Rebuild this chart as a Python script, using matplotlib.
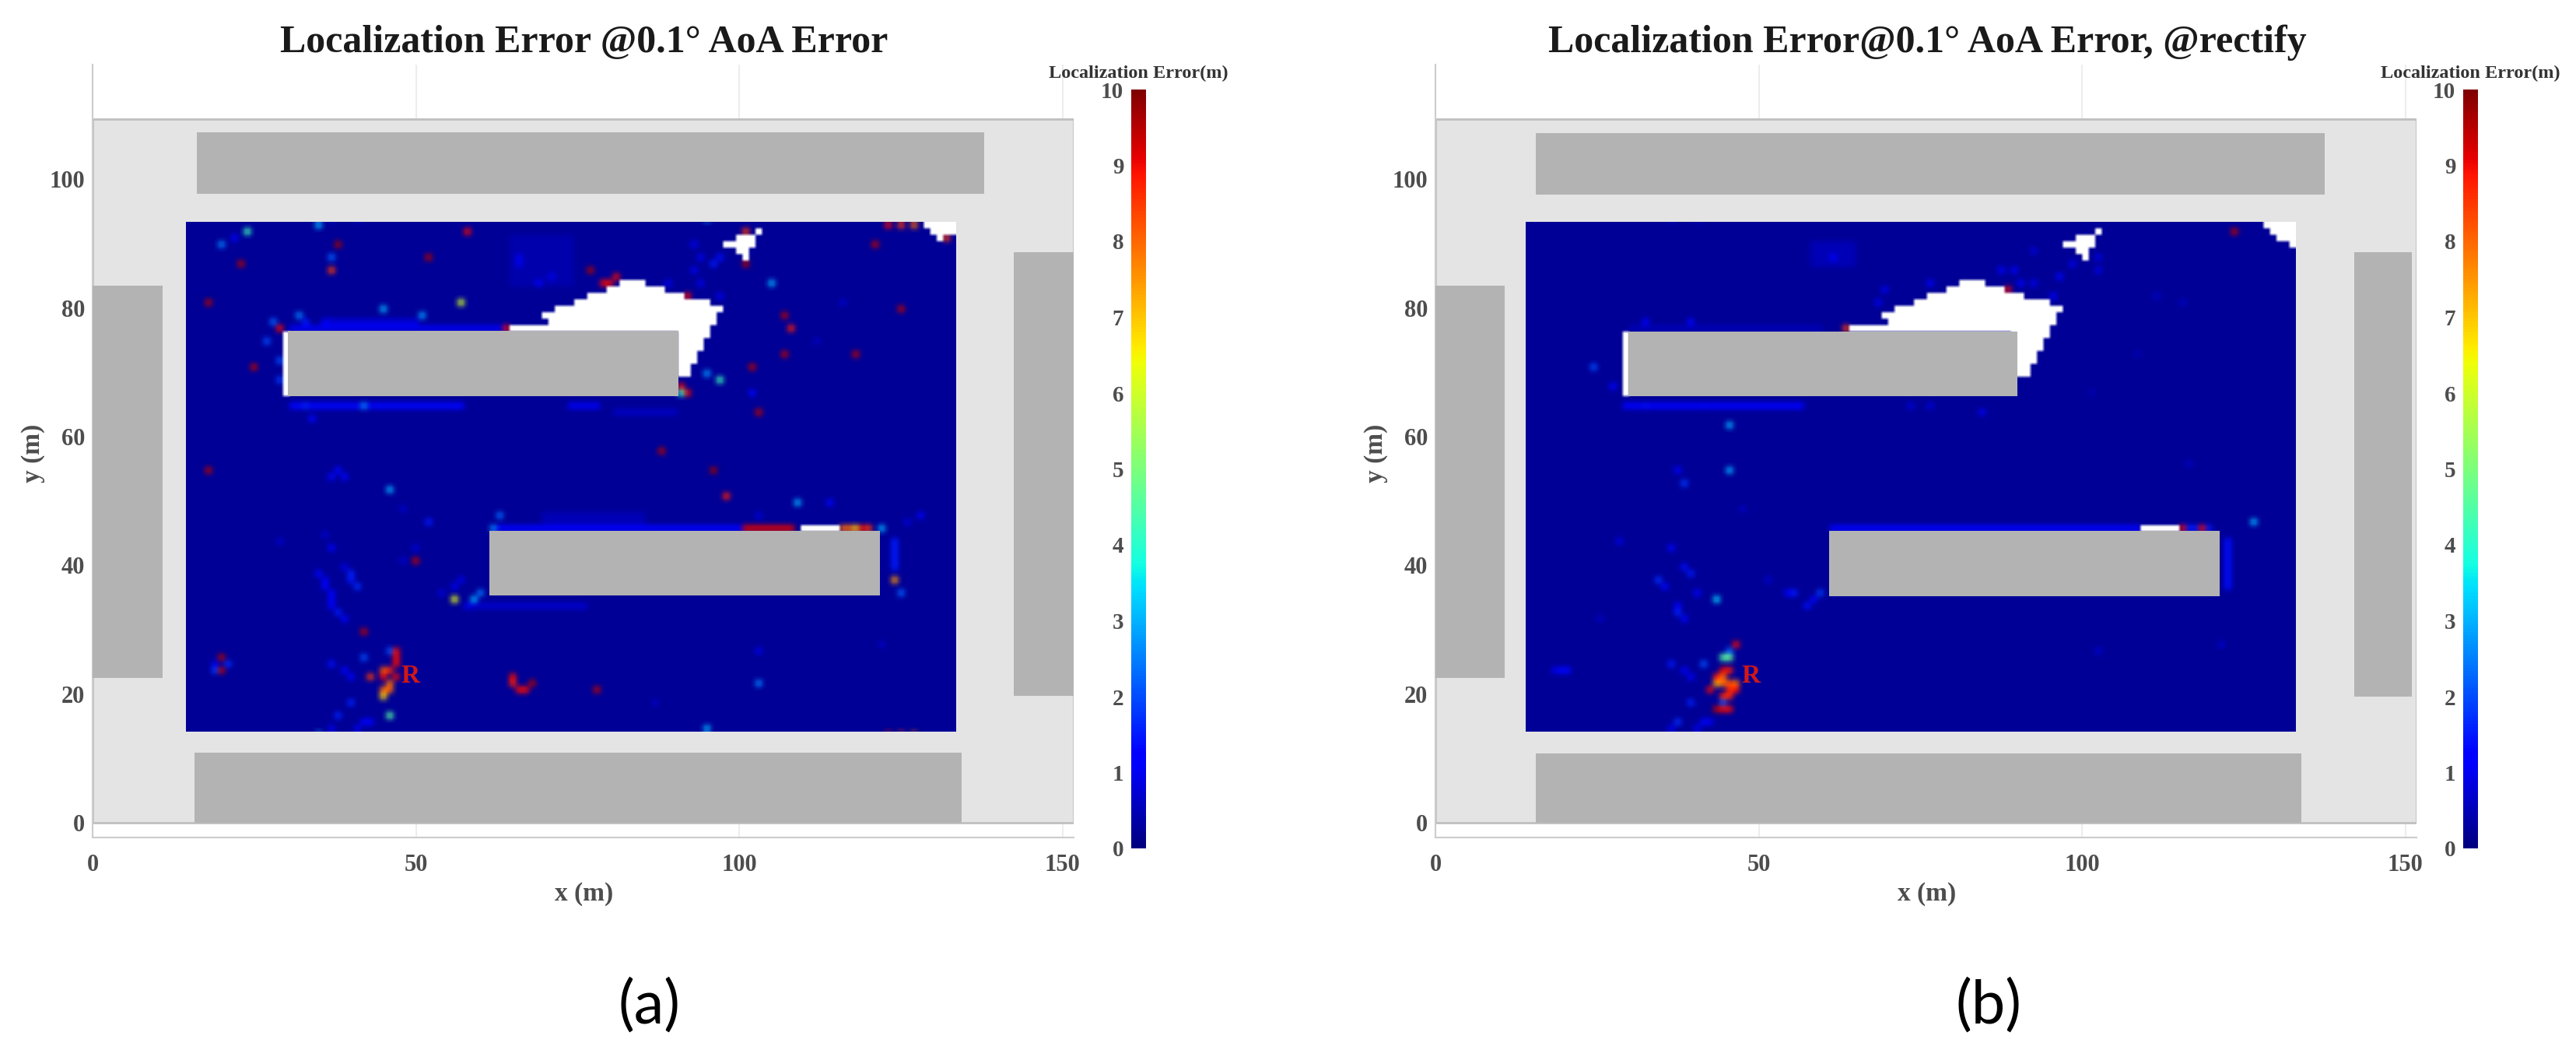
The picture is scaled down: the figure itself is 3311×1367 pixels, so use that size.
import numpy as np
import matplotlib
matplotlib.use('Agg')
import matplotlib.pyplot as plt
from matplotlib.cm import ScalarMappable
from matplotlib.colors import Normalize
from matplotlib.patches import Rectangle

W, H = 3311, 1367

# grey buildings: x0, y0, x1, y1 (m)
a_buildings = [(16.1, 97.7, 137.9, 107.3), (0, 22.5, 10.8, 83.5), (142.4, 19.7, 151.7, 88.7),
               (15.8, 0, 134.4, 10.9), (30.2, 66.3, 90.6, 76.4), (61.3, 35.3, 121.8, 45.4)]
b_buildings = [(15.5, 97.6, 137.5, 107.2), (0, 22.5, 10.7, 83.5), (142.1, 19.6, 151, 88.7),
               (15.5, 0, 133.9, 10.8), (29.8, 66.3, 90, 76.3), (60.9, 35.2, 121.3, 45.3)]

# no-coverage cells: y, x from, x to
a_white = [(83.9, 81.4, 85.2), (82.9, 79.4, 88.3), (81.9, 76.4, 91.3), (80.9, 74.4, 95.3),
           (79.9, 71.4, 97.3), (78.9, 69.4, 96.3), (77.9, 70.4, 96.3), (76.9, 64.4, 95.3),
           (75.9, 90, 95.3), (74.9, 90, 94.3), (73.9, 90, 94.3), (72.9, 90, 93.3),
           (71.9, 90, 93.3), (70.9, 90, 92.3), (69.9, 90, 92.3),
           (91.9, 102.3, 103.4), (90.9, 99.4, 102.4), (89.9, 97.4, 102.4), (88.9, 99.3, 101.7),
           (87.9, 100.4, 101.4), (92.9, 128.4, 133.4), (91.9, 129.4, 133.4), (90.9, 130.4, 131.4),
           (45.9, 109.1, 115.2)]
a_wall = [(y, 29.6, 30.2) for y in (66.9, 67.9, 68.9, 69.9, 70.9, 71.9, 72.9, 73.9, 74.9, 75.9)]

b_white = [(83.9, 81, 84.8), (82.9, 78.8, 88), (81.9, 75.8, 90.85), (80.9, 73.8, 94.9),
           (79.9, 71, 96.9), (78.9, 69, 95.9), (77.9, 69.8, 95.9), (76.9, 63.8, 94.9),
           (75.9, 89, 94.9), (74.9, 89, 93.9), (73.9, 89, 93.9), (72.9, 89, 92.9),
           (71.9, 89, 92.9), (70.9, 89, 91.9), (69.9, 89, 91.9),
           (91.9, 101.9, 103), (90.9, 98.9, 102), (89.9, 96.9, 102), (88.9, 98.9, 101.3),
           (87.9, 99.9, 100.9), (92.9, 127.8, 133), (91.9, 128.8, 133), (90.9, 130, 133),
           (89.9, 132, 133), (45.9, 108.8, 114.6)]
b_wall = [(y, 29.2, 29.7) for y in (66.9, 67.9, 68.9, 69.9, 70.9, 71.9, 72.9, 73.9, 74.9, 75.9)]

# faint raised bands: y from, y to, x from, x to, error
a_bands = [(64.2, 65.2, 30.5, 57.6, 1.3), (64.2, 65.2, 73.6, 78, 1.0), (63.3, 64.3, 80, 90, 0.6),
           (76.4, 77.4, 30, 64, 1.0), (77.4, 78.4, 36, 50, 0.8), (83.5, 91, 64, 74, 0.4),
           (45.4, 46.4, 62, 100.5, 1.1), (46.4, 48, 69.4, 85, 0.5), (33.8, 34.8, 58, 76, 0.7),
           (39.3, 44.4, 123.1, 124.1, 1.5)]
b_bands = [(64.2, 65.2, 28.5, 57.3, 1.2), (86.7, 90, 57.7, 64.5, 0.5), (45.4, 46.4, 60.5, 108.5, 1.1),
           (36.5, 44.5, 122.2, 123.2, 1.4), (76.4, 77.4, 30, 60, 0.5)]

# scattered cells: x, y, error (m)
a_cells = [
  (23.8, 91.9, 4.2), (34.9, 92.8, 3), (19.8, 89.8, 2.5), (21.8, 90.8, 1.2), (36.9, 87.8, 2.2),
  (36.7, 85.9, 8.5), (38.1, 89.7, 9.7), (22.8, 86.8, 9.6), (58.1, 91.9, 9), (51.8, 87.8, 9.6),
  (17.9, 80.6, 9.6), (56.9, 80.8, 6), (44.8, 79.8, 3), (50.8, 78.8, 2.8), (31.8, 78.8, 2.5),
  (27.9, 77.8, 2.2), (32.5, 77.8, 1.5), (35.9, 77.8, 1.2), (26.9, 74.8, 2), (29, 76.8, 9),
  (24.9, 70.9, 9.5), (28.9, 71.7, 2), (28.9, 68.7, 1.8), (32.9, 64.7, 1.6), (41.9, 64.7, 2.5),
  (33.8, 62.7, 1.3), (63.9, 76.8, 9), (17.9, 54.8, 9.6), (38.1, 54.7, 1.3), (37.1, 53.9, 1.1),
  (66.2, 87.9, 1), (65.4, 86.9, 1), (68.8, 83.9, 1.2), (70.6, 84.5, 1),
  (76.8, 86, 9.6), (78.8, 84, 9), (79.8, 84.3, 9), (80.7, 85, 9), (91.8, 81.9, 9),
  (101.3, 91.9, 8.5), (100.9, 86.8, 9.6), (120.6, 89.8, 9.5), (122.4, 92.9, 9), (124.6, 92.9, 8.5),
  (126.7, 92.9, 8), (131.6, 90.9, 8.5), (104.7, 83.9, 3), (106.7, 78.8, 9.5), (107.8, 76.7, 8.8),
  (106.7, 72.9, 9.5), (101.7, 70.9, 9.5), (117.7, 72.9, 9.5), (124.7, 80, 9.5), (94.8, 69.8, 2.7),
  (96.8, 68.8, 4.2), (90.9, 67.8, 9), (90.8, 66.8, 4), (92, 66.6, 9), (102.8, 63.8, 9.5),
  (87.7, 57.8, 9.6), (96.1, 54.9, 9.8), (101.7, 66.8, 1.3), (92.9, 90, 1), (96.7, 87.9, 1.4),
  (95.7, 86.7, 1.5), (93.7, 87.9, 1), (92.9, 85.9, 1), (93.9, 83.9, 1), (88.5, 83.9, 1),
  (96.5, 81.5, 1), (112, 74.8, 0.6), (115.8, 80.5, 0.7),
  (45.8, 51.7, 3), (36.9, 53.6, 1.3), (38.9, 53.6, 1.3), (47.9, 48.8, 0.7), (51.8, 46.8, 1.5),
  (29.4, 43.8, 0.7), (36.7, 42.6, 1.2), (35.9, 44.6, 0.7), (35.1, 38.7, 1.3), (35.5, 37.7, 1.2),
  (36.1, 36.7, 1.3), (36.5, 35.7, 1.2), (36.9, 34.7, 1.2), (37.3, 33.7, 1.2), (37.9, 32.7, 1.5),
  (38.9, 31.7, 1.3), (38.9, 39.5, 0.9), (39.7, 38.5, 1.6), (40.1, 37.7, 1.5), (40.7, 36.7, 1.7),
  (49.9, 40.7, 9.5), (49.9, 43.2, 0.8), (47.5, 40.7, 0.7), (62.8, 47.8, 2.3), (61.8, 45.8, 2.6),
  (55.8, 34.7, 6.3), (58.9, 34.7, 3), (59.8, 35.7, 2.4), (56, 36.7, 1), (57, 37.7, 0.9),
  (58, 33.7, 1), (54.2, 35.7, 0.8), (41.8, 29.7, 9.5),
  (45.8, 26.6, 2), (46.9, 26.6, 9), (46.9, 25.6, 9), (46.9, 24.6, 9), (44.9, 24, 8.2),
  (45.9, 23.6, 8.7), (42.9, 23, 8.5), (44.9, 23, 9), (46.9, 23, 9), (45.5, 21.6, 8),
  (44.9, 21, 8), (45.9, 21, 8), (44.9, 20.2, 8.5), (44.8, 19.6, 6.8), (42.1, 25.6, 2),
  (36.9, 24.8, 1.4), (38.9, 23.6, 1.2), (39.9, 22.8, 1.2), (45.8, 16.8, 4.5), (39.7, 18.6, 1.6),
  (37.9, 16.6, 1.6), (36.9, 15, 1), (41.7, 15.6, 1.2), (42.7, 15.6, 1.1), (40.9, 15, 1),
  (20, 23.6, 9.5), (18.8, 23.6, 1.8), (20.8, 24.8, 1.7), (19, 24.6, 1), (20, 26.2, 9.6),
  (64.8, 22.2, 8.8), (64.8, 23, 9), (65.8, 20.8, 9), (66.8, 20.8, 9), (67.4, 21.8, 9.6),
  (97.6, 50.9, 8.8), (108.7, 49.7, 3), (113.8, 49.7, 1.3), (103.3, 47.8, 0.8),
  (100.9, 45.8, 9.2), (101.9, 45.8, 9.2), (102.9, 45.8, 9.2), (103.9, 45.8, 9.2), (104.9, 45.8, 9.2),
  (105.9, 45.8, 9.2), (106.9, 45.8, 9.2), (107.9, 45.8, 9.2), (115.9, 45.8, 8), (116.9, 45.8, 8),
  (117.6, 45.8, 7), (118.8, 45.8, 9), (119.8, 45.8, 8.5), (121.7, 45.8, 3),
  (123.6, 43.8, 1.5), (123.6, 37.7, 7.5), (124.7, 35.7, 2.2), (127.8, 47.8, 1.1), (125.6, 46.8, 0.8),
  (122, 27.8, 0.6), (102.9, 26.6, 0.9), (102.7, 21.7, 2.5), (77.8, 20.7, 9.5), (94.7, 14.7, 3),
  (87, 19, 0.6),
]

b_cells = [
  (24.5, 70.7, 2), (27.3, 67.7, 1.2), (32.1, 77.7, 1.1), (39.3, 77.7, 1.3), (45.3, 61.7, 3),
  (45.3, 54.7, 3), (37.3, 54.7, 1.2), (32.9, 64.7, 1.4), (41.3, 64.7, 1.3), (61, 88.1, 1.2),
  (69.4, 82.7, 1), (68.6, 80.6, 1), (63.4, 76.8, 8.5), (123.4, 91.7, 9.5), (88.6, 83, 9),
  (87.4, 85.7, 1.1), (89.2, 85.7, 1.1), (76.4, 84.3, 1.1), (96.9, 84.5, 1.3), (90.4, 83.7, 1.1),
  (92.4, 83.9, 1), (95.3, 81.5, 1.1), (98.5, 86.7, 1), (102.1, 87.7, 0.9), (102.7, 85.7, 0.9),
  (92.4, 89.1, 0.8), (111.7, 81.9, 0.6), (115.3, 81, 0.6), (84, 63.9, 1), (76.8, 64.5, 0.8),
  (73.6, 64.7, 0.8), (116.5, 56.1, 0.6), (101.5, 66.5, 0.5), (108.9, 73, 0.5),
  (38.4, 52.6, 1.8), (28.2, 43.8, 0.9), (36.4, 42.6, 1.3), (34.4, 37.7, 1.7), (35.3, 36.7, 1.3),
  (37.5, 33.9, 1.1), (37.5, 32.9, 1.6), (38.3, 31.7, 1.3), (38.3, 39.5, 1.4), (39.3, 38.5, 1.5),
  (40.3, 35.5, 1.1), (43.4, 34.6, 3.3), (55.3, 36.3, 1.5), (54.3, 35.7, 1.2), (59.3, 36.1, 1.8),
  (58.3, 34.7, 1.3), (57.1, 33.5, 1.4), (51.3, 37.7, 0.7), (47.7, 48.8, 0.6), (25.7, 32.3, 0.6),
  (19.3, 24.4, 1.3), (20.3, 24.4, 1.3), (18.3, 23.6, 0.9), (36.5, 24.6, 1.5), (38.5, 23.6, 1.1),
  (39.5, 22.6, 1.1), (41.5, 25.4, 2), (45.3, 26.6, 2.2), (46.7, 27.6, 9), (44.5, 25.6, 4.5),
  (45.5, 25.6, 4.8), (44.1, 24.2, 9), (45.1, 24.2, 8.8), (44.1, 23.4, 8), (43.3, 23.2, 8.8),
  (43.3, 22.2, 7.3), (44.3, 22.2, 8), (45.3, 22.4, 8.3), (46.3, 22.4, 8), (45.1, 21.4, 8.7),
  (46.1, 21.4, 8.9), (42.3, 20.6, 9), (44.1, 20.4, 8.7), (45.1, 20.4, 8.7), (44.5, 19.4, 7),
  (44.5, 18.6, 2), (43.5, 18.4, 9.5), (45.5, 18.4, 9), (44.5, 17.6, 9), (45.5, 17.6, 9),
  (39.3, 18.6, 1.6), (37.5, 16.4, 1.7), (36.5, 15, 1), (41.7, 15.6, 1.3), (42.7, 15.6, 1),
  (40.9, 14.8, 1), (102.4, 26.8, 0.7), (121, 28.2, 0.7), (126.3, 46.6, 3), (115.3, 45.8, 9),
  (116.5, 45.8, 1.5), (117.5, 45.8, 1.5), (118.7, 45.8, 9), (119.8, 45.8, 1.5),
]

x_ticks = [0, 50, 100, 150]
y_ticks = [0, 20, 40, 60, 80, 100]
cbar_ticks = list(range(11))
base_error = 0.2
titles = ['Localization Error @0.1\u00b0 AoA Error', 'Localization Error@0.1\u00b0 AoA Error, @rectify']
cbar_title = 'Localization Error(m)'
serif = 'Liberation Serif'


def px_axes(fig, left, top, right, bottom):
  return fig.add_axes([left/W, 1-bottom/H, (right-left)/W, (bottom-top)/H])


def build_grid(x0, bands, cells, white):
  grid = np.full((79, 119), base_error)
  for y1, y2, x1, x2, v in bands:
    for r in range(79):
      for c in range(119):
        if y1 <= 14.4+r+0.5 <= y2 and x1 <= x0+c+0.5 <= x2:
          grid[r, c] = v
  for x, y, v in cells:
    grid[int(y-14.4), int(x-x0)] = v
  for y, x1, x2 in white:
    r = int(y-14.4)
    for c in range(119):
      if x1 <= x0+c+0.5 <= x2:
        grid[r, c] = np.nan
  return grid


def soften(grid):
  # the source figure is a blurred scan: [1 2 1] over doubled cells, white kept sharp
  hole = np.isnan(grid)
  rgb = plt.cm.jet(Normalize(0, 10)(np.where(hole, base_error, grid)))
  rgb = np.repeat(np.repeat(rgb, 2, axis=0), 2, axis=1)
  hole = np.repeat(np.repeat(hole, 2, axis=0), 2, axis=1)
  for axis in (0, 1):
    rgb = (np.roll(rgb, 1, axis=axis) + 2*rgb + np.roll(rgb, -1, axis=axis))/4
  rgb[hole] = (1, 1, 1, 1)
  return rgb


def plot_panel(fig, left, cbar_left, x0, grid, buildings, title, r_pos):
  ax = px_axes(fig, left, 83, left+1261, 1076)
  ax.set_axisbelow(True)
  ax.grid(axis='x', color='0.93', lw=1.5)

  ax.add_patch(Rectangle((0, 0), 151.7, 109.3, fc='#e4e4e4', ec='0.75', lw=2, zorder=1))

  ax.imshow(soften(grid), origin='lower', extent=(x0, x0+119, 14.2, 93.4), aspect='auto',
            interpolation='bilinear', zorder=2)

  for bx0, by0, bx1, by1 in buildings:
    ax.add_patch(Rectangle((bx0, by0), bx1-bx0, by1-by0, fc='#b3b3b3', ec='none', zorder=3))

  ax.text(r_pos[0], r_pos[1], 'R', color='#d01818', family=serif, weight='bold', fontsize=24,
          ha='center', va='center', zorder=4)

  ax.set_xlim(0, 151.7)
  ax.set_ylim(-2.3, 117.8)
  ax.set_xticks(x_ticks)
  ax.set_yticks(y_ticks)
  ax.tick_params(length=0, labelsize=22, labelcolor='0.3')
  ax.tick_params(axis='x', pad=15)
  ax.tick_params(axis='y', pad=7)
  for lab in ax.get_xticklabels()+ax.get_yticklabels():
    lab.set_family(serif)
    lab.set_weight('bold')
  for s in ['top', 'right']:
    ax.spines[s].set_visible(False)
  for s in ['left', 'bottom']:
    ax.spines[s].set_color('0.8')
    ax.spines[s].set_linewidth(1.5)

  mid = left+632
  fig.text(mid/W, 1-55/H, title, family=serif, weight='bold', fontsize=36, color='0.1',
           ha='center', va='center')
  fig.text(mid/W, 1-1148/H, 'x (m)', family=serif, weight='bold', fontsize=24, color='0.3',
           ha='center', va='center')
  fig.text((left-77)/W, 1-582/H, 'y (m)', family=serif, weight='bold', fontsize=24, color='0.3',
           rotation=90, ha='center', va='center')

  cax = px_axes(fig, cbar_left, 115, cbar_left+19, 1090)
  cb = fig.colorbar(ScalarMappable(Normalize(0, 10), 'jet'), cax=cax, ticks=cbar_ticks)
  cb.outline.set_visible(False)
  cax.yaxis.set_ticks_position('left')
  cax.tick_params(length=0, labelsize=21, labelcolor='0.3', pad=7)
  for lab in cax.get_yticklabels():
    lab.set_family(serif)
    lab.set_weight('bold')
  fig.text((cbar_left+9)/W, 1-94/H, cbar_title, family=serif, weight='bold', fontsize=17.5,
           color='0.2', ha='center', va='center')


def main():
  fig = plt.figure(figsize=(W/100, H/100), dpi=100)

  a_grid = build_grid(14.4, a_bands, a_cells, a_white+a_wall)
  b_grid = build_grid(13.95, b_bands, b_cells, b_white+b_wall)

  plot_panel(fig, 119, 1454, 14.4, a_grid, a_buildings, titles[0], (49.1, 22.8))
  plot_panel(fig, 1845, 3166, 13.95, b_grid, b_buildings, titles[1], (48.8, 22.8))

  fig.text(834/W, 1-1293/H, '(a)', family='Lato', fontsize=56, color='black', ha='center', va='center')
  fig.text(2556/W, 1-1293/H, '(b)', family='Lato', fontsize=56, color='black', ha='center', va='center')

  fig.savefig('out.png', dpi=100)


if __name__ == '__main__':
  main()
